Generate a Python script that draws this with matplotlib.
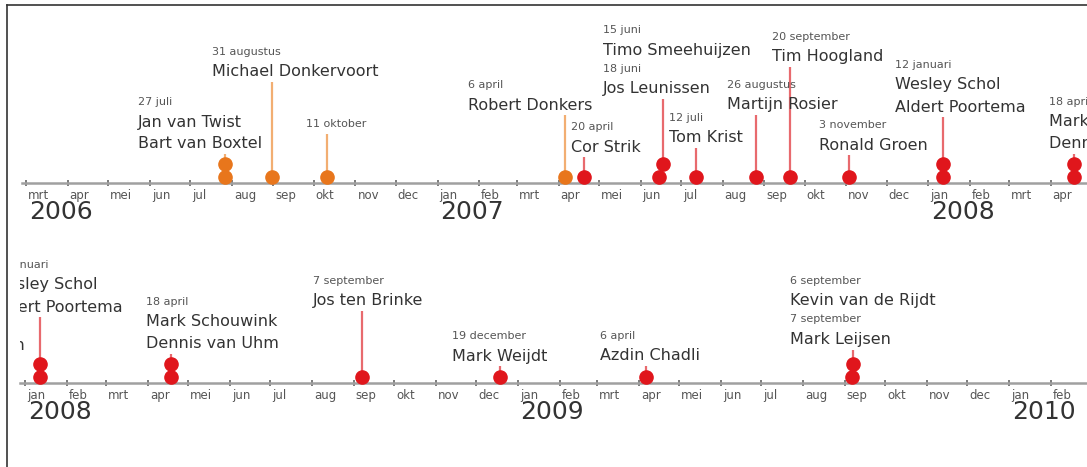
import matplotlib
matplotlib.use('Agg')
import matplotlib.pyplot as plt
import matplotlib.dates as mdates
import matplotlib.transforms as mtransforms
from matplotlib.lines import Line2D
import datetime as dt

# ---------------- data ----------------
event_dates = ['2006-07-27', '2006-07-27', '2006-08-31', '2006-10-11',
               '2007-04-06', '2007-04-20', '2007-06-15', '2007-06-18',
               '2007-07-12', '2007-08-26', '2007-09-20', '2007-11-03',
               '2008-01-12', '2008-01-12', '2008-04-18', '2008-04-18',
               '2008-09-07', '2008-12-19', '2009-04-06', '2009-09-06',
               '2009-09-07']
event_names = ['Jan van Twist', 'Bart van Boxtel', 'Michael Donkervoort', '',
               'Robert Donkers', 'Cor Strik', 'Timo Smeehuijzen', 'Jos Leunissen',
               'Tom Krist', 'Martijn Rosier', 'Tim Hoogland', 'Ronald Groen',
               'Wesley Schol', 'Aldert Poortema', 'Mark Schouwink', 'Dennis van Uhm',
               'Jos ten Brinke', 'Mark Weijdt', 'Azdin Chadli', 'Kevin van de Rijdt',
               'Mark Leijsen']
event_groups = ['A', 'A', 'A', 'A', 'A',
                'B', 'B', 'B', 'B', 'B', 'B', 'B', 'B', 'B', 'B', 'B',
                'B', 'B', 'B', 'B', 'B']

month_short = ['jan', 'feb', 'mrt', 'apr', 'mei', 'jun', 'jul', 'aug', 'sep', 'okt', 'nov', 'dec']
month_long = ['januari', 'februari', 'maart', 'april', 'mei', 'juni', 'juli', 'augustus',
              'september', 'oktober', 'november', 'december']

row_ranges = [('2006-02-26', '2008-04-28'), ('2007-12-28', '2010-02-28')]

# ---------------- layout (per label cluster) ----------------
label_dx_days = [-65, -45, -16, -72, -10, -42, -20, -22, -13, -22, -36, -18, -36, -36, -34, -46]
label_top_px = [81, 131, 59, 98, 56, 153, 65, 98, 146, 58, 118, 81, 102, 47, 47, 102]

colors = {'A': '#E8761C', 'B': '#E0161C'}
stem_colors = {'A': '#F2AE72', 'B': '#E86A6E'}

W, H = 1087, 467
fig = plt.figure(figsize=(W / 100, H / 100), dpi=100)

# figure frame (left and top)
fig.add_artist(Line2D([7 / W, 7 / W], [0, 1 - 5 / H], transform=fig.transFigure, color='#333333', lw=1.2))
fig.add_artist(Line2D([7 / W, 1], [1 - 5 / H, 1 - 5 / H], transform=fig.transFigure, color='#333333', lw=1.2))

dates = [dt.datetime.strptime(d, '%Y-%m-%d') for d in event_dates]

# clusters of nearby events
clusters = []
for i, d in enumerate(dates):
    if clusters and (d - dates[clusters[-1][-1]]).days <= 5:
        clusters[-1].append(i)
    else:
        clusters.append([i])

# axes geometry in pixels: (left, top, bottom, line_y)
row_geom = [(22, 5, 245, 183), (20, 245, 467, 383)]

DOT0, DOTSTEP = 6, 13


def month_starts(start, end):
    out = []
    y, m = start.year, start.month
    t = dt.datetime(y, m, 1)
    if t < start:
        m += 1
        if m > 12:
            m, y = 1, y + 1
    while True:
        t = dt.datetime(y, m, 1)
        if t > end:
            break
        out.append(t)
        m += 1
        if m > 12:
            m, y = 1, y + 1
    return out


for (start_s, end_s), (left, top, bottom, liney) in zip(row_ranges, row_geom):
    start = dt.datetime.strptime(start_s, '%Y-%m-%d')
    end = dt.datetime.strptime(end_s, '%Y-%m-%d')
    ax = fig.add_axes([left / W, (H - bottom) / H, (W - left) / W, (bottom - top) / H])
    ax.set_xlim(mdates.date2num(start), mdates.date2num(end))
    ax.set_ylim(liney - bottom, liney - top)
    ax.patch.set_visible(False)
    for s in ['top', 'left', 'right']:
        ax.spines[s].set_visible(False)
    ax.spines['bottom'].set_position(('data', 0))
    ax.spines['bottom'].set_color('#a0a0a0')
    ax.spines['bottom'].set_linewidth(1.8)
    ax.set_yticks([])

    ticks = month_starts(start, end)
    ax.set_xticks([mdates.date2num(t) for t in ticks])
    ax.set_xticklabels([month_short[t.month - 1] for t in ticks], ha='left', fontsize=8.5, color='#555555')
    ax.tick_params(axis='x', direction='inout', length=4, width=1.2, color='#666666', pad=2)
    off = mtransforms.ScaledTranslation(2 / 100, 0, fig.dpi_scale_trans)
    for lbl in ax.get_xticklabels():
        lbl.set_transform(lbl.get_transform() + off)

    for i, t in enumerate(ticks):
        if i == 0 or t.month == 1:
            ax.text(mdates.date2num(t) + 2, -29, str(t.year), fontsize=18, color='#333333',
                    ha='left', va='center', clip_on=False)

    for ci, cl in enumerate(clusters):
        grp = event_groups[cl[0]]
        xs = [mdates.date2num(dates[i]) for i in cl]
        ys = [DOT0 + k * DOTSTEP for k in range(len(cl))]
        # label lines
        lines = []
        y = label_top_px[ci]
        prev_date = None
        prev_kind = None
        for i in cl:
            if dates[i] != prev_date:
                if prev_kind == 'name':
                    y -= 18.5
                d = dates[i]
                lines.append(('date', f'{d.day} {month_long[d.month - 1]}', y))
                prev_date = d
                prev_kind = 'date'
            if event_names[i]:
                y -= 20 if prev_kind == 'date' else 22
                lines.append(('name', event_names[i], y))
                prev_kind = 'name'
        x_text = xs[0] + label_dx_days[ci]
        for kind, txt, yy in lines:
            if kind == 'date':
                ax.text(x_text, yy, txt, fontsize=8, color='#555555', ha='left', va='center', clip_on=True)
            else:
                ax.text(x_text, yy, txt, fontsize=11.5, color='#333333', ha='left', va='center', clip_on=True)
        stem_top = lines[-1][2] - 10
        if stem_top > ys[-1]:
            ax.plot([xs[-1], xs[-1]], [ys[-1], stem_top], color=stem_colors[grp], lw=1.6, zorder=2,
                    solid_capstyle='butt')
        ax.plot(xs, ys, 'o', ms=9.5, color=colors[grp], mec=colors[grp], zorder=4, clip_on=True)

fig.savefig('out.png', dpi=100)
